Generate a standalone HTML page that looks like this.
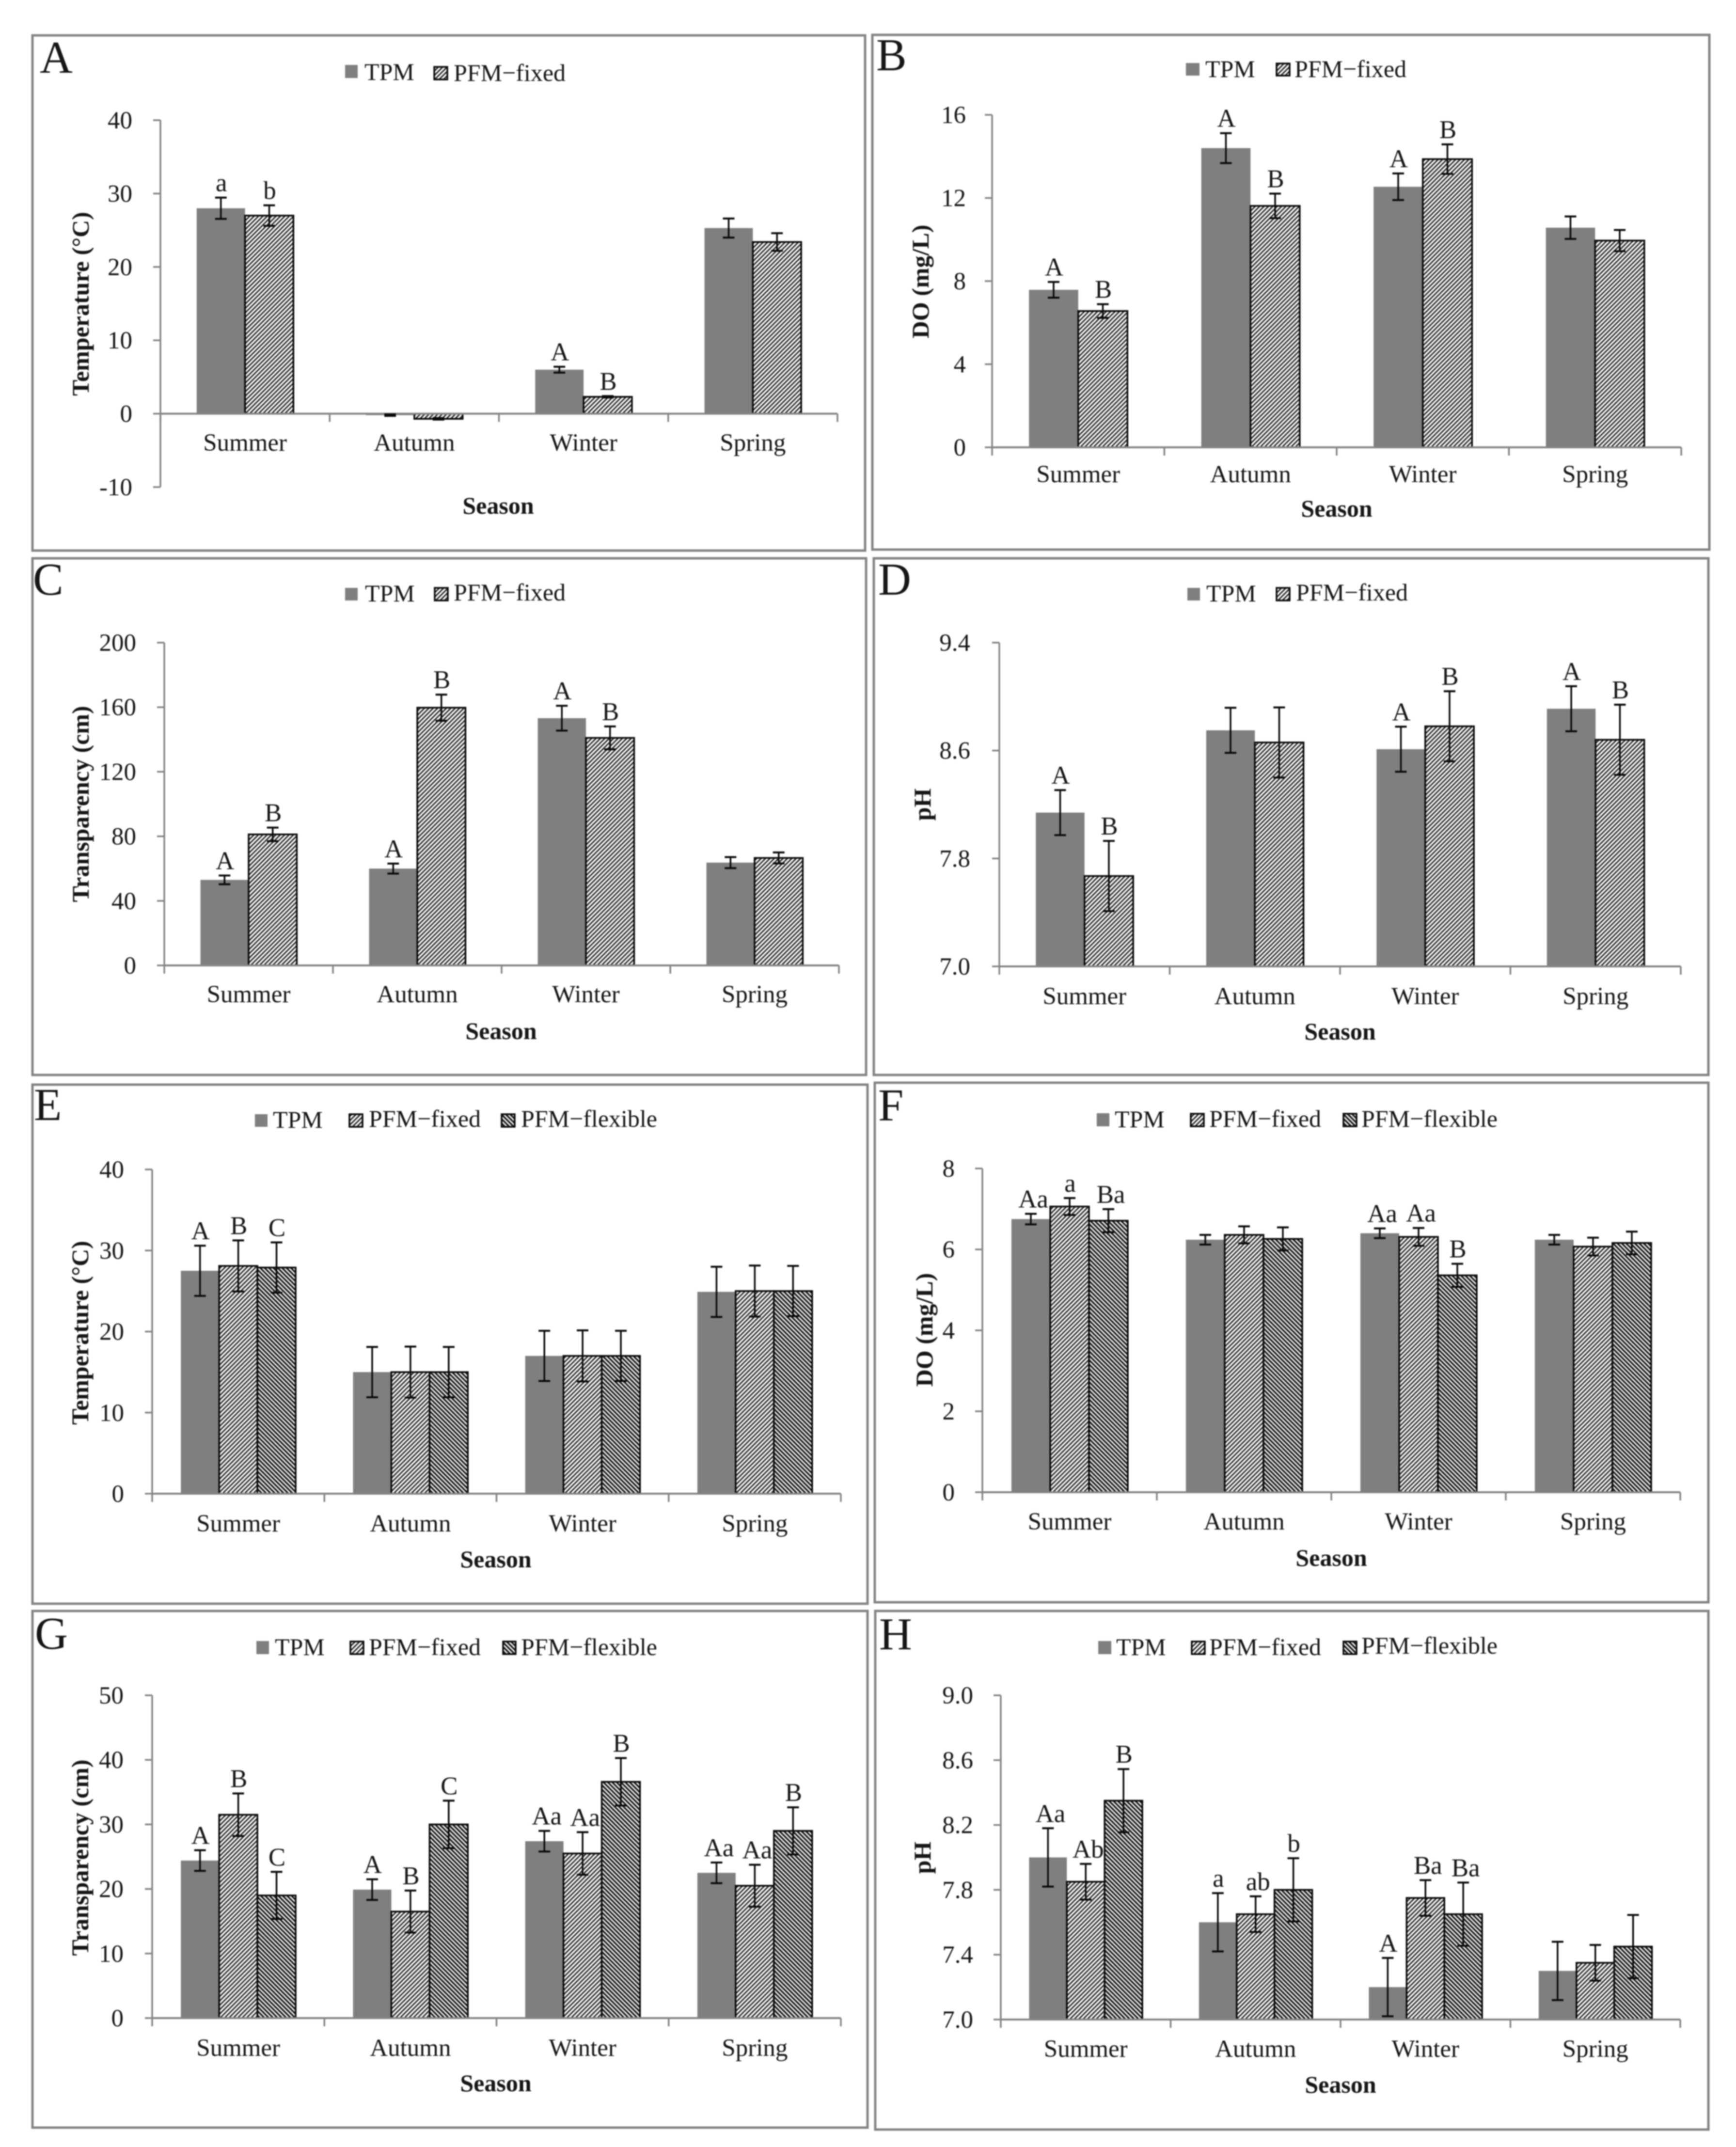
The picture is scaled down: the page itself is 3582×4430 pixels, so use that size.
<!DOCTYPE html>
<html lang="en">
<head>
<meta charset="utf-8">
<title>Seasonal water quality bar charts</title>
<style>
html,body{margin:0;padding:0;background:#fff;width:3582px;height:4430px;overflow:hidden}
svg{display:block;filter:blur(1.2px)}
text{font-family:"Liberation Serif",serif;fill:#161616}
.letter{font-size:94px}
.leg{font-size:50px}
.tick{font-size:51px;text-anchor:end}
.cat{font-size:51px;text-anchor:middle}
.sig{font-size:53px;text-anchor:middle}
.title{font-size:50px;font-weight:bold;text-anchor:middle}
.box{fill:#fff;stroke:#858585;stroke-width:5}
.tpm{fill:#7f7f7f}
.fixed{fill:url(#hatch-fixed);stroke:#0a0a0a;stroke-width:3.5}
.flex{fill:url(#hatch-flex);stroke:#0a0a0a;stroke-width:3.5}
</style>
</head>
<body>
<svg id="figure" xmlns="http://www.w3.org/2000/svg" width="3582" height="4430" viewBox="0 0 3582 4430">
<defs>
<pattern id="hatch-fixed" patternUnits="userSpaceOnUse" width="6.4" height="6.4" patternTransform="rotate(45)">
<rect width="6.4" height="6.4" fill="#fafafa"/><rect x="0" width="2.7" height="6.4" fill="#1c1c1c"/>
</pattern>
<pattern id="hatch-flex" patternUnits="userSpaceOnUse" width="6.4" height="6.4" patternTransform="rotate(-45)">
<rect width="6.4" height="6.4" fill="#f4f4f4"/><rect x="0" width="3.4" height="6.4" fill="#141414"/>
</pattern>
</defs>
<rect width="3582" height="4430" fill="#fff"/>

<g id="panel-a">
<rect class="box" x="67" y="73" width="1718" height="1063"/>
<text class="letter" x="82" y="150">A</text>
<rect class="tpm" x="712" y="134" width="26" height="27"/>
<text class="leg" x="752" y="165">TPM</text>
<rect class="fixed" x="896" y="138" width="27" height="26"/>
<text class="leg" x="936" y="167">PFM−fixed</text>
<text class="title" transform="translate(183 627) rotate(-90)">Temperature (°C)</text>
<text class="title" x="1028" y="1060">Season</text>
</g>

<g id="panel-b">
<rect class="box" x="1800" y="72" width="1727" height="1062"/>
<text class="letter" x="1808" y="145">B</text>
<rect class="tpm" x="2447" y="130" width="28" height="26"/>
<text class="leg" x="2487" y="159">TPM</text>
<rect class="fixed" x="2634" y="131" width="27" height="25"/>
<text class="leg" x="2671" y="159">PFM−fixed</text>
<text class="title" transform="translate(1916 581) rotate(-90)">DO (mg/L)</text>
<text class="title" x="2758" y="1066">Season</text>
</g>

<g id="panel-c">
<rect class="box" x="67" y="1152" width="1720" height="1066"/>
<text class="letter" x="68" y="1227">C</text>
<rect class="tpm" x="712" y="1213" width="26" height="26"/>
<text class="leg" x="753" y="1241">TPM</text>
<rect class="fixed" x="897" y="1213" width="27" height="26"/>
<text class="leg" x="936" y="1239">PFM−fixed</text>
<text class="title" transform="translate(183 1659) rotate(-90)">Transparency (cm)</text>
<text class="title" x="1034" y="2144">Season</text>
</g>

<g id="panel-d">
<rect class="box" x="1803" y="1152" width="1722" height="1066"/>
<text class="letter" x="1812" y="1227">D</text>
<rect class="tpm" x="2450" y="1213" width="26" height="26"/>
<text class="leg" x="2489" y="1241">TPM</text>
<rect class="fixed" x="2634" y="1213" width="27" height="26"/>
<text class="leg" x="2674" y="1239">PFM−fixed</text>
<text class="title" transform="translate(1920 1660) rotate(-90)">pH</text>
<text class="title" x="2765" y="2145">Season</text>
</g>

<g id="panel-e">
<rect class="box" x="67" y="2238" width="1723" height="1071"/>
<text class="letter" x="70" y="2311">E</text>
<rect class="tpm" x="526" y="2299" width="26" height="26"/>
<text class="leg" x="563" y="2327">TPM</text>
<rect class="fixed" x="721" y="2299" width="27" height="26"/>
<text class="leg" x="761" y="2325">PFM−fixed</text>
<rect class="flex" x="1035" y="2299" width="27" height="26"/>
<text class="leg" x="1075" y="2325">PFM−flexible</text>
<text class="title" transform="translate(182 2750) rotate(-90)">Temperature (°C)</text>
<text class="title" x="1023" y="3234">Season</text>
</g>

<g id="panel-f">
<rect class="box" x="1805" y="2234" width="1720" height="1072"/>
<text class="letter" x="1812" y="2312">F</text>
<rect class="tpm" x="2263" y="2297" width="26" height="27"/>
<text class="leg" x="2300" y="2326">TPM</text>
<rect class="fixed" x="2457" y="2298" width="27" height="26"/>
<text class="leg" x="2495" y="2325">PFM−fixed</text>
<rect class="flex" x="2772" y="2298" width="27" height="26"/>
<text class="leg" x="2809" y="2325">PFM−flexible</text>
<text class="title" transform="translate(1924 2744) rotate(-90)">DO (mg/L)</text>
<text class="title" x="2747" y="3231">Season</text>
</g>

<g id="panel-g">
<rect class="box" x="67" y="3324" width="1723" height="1066"/>
<text class="letter" x="72" y="3402">G</text>
<rect class="tpm" x="529" y="3386" width="26" height="27"/>
<text class="leg" x="567" y="3415">TPM</text>
<rect class="fixed" x="723" y="3387" width="27" height="26"/>
<text class="leg" x="761" y="3415">PFM−fixed</text>
<rect class="flex" x="1038" y="3387" width="26" height="26"/>
<text class="leg" x="1075" y="3415">PFM−flexible</text>
<text class="title" transform="translate(182 3833) rotate(-90)">Transparency (cm)</text>
<text class="title" x="1023" y="4315">Season</text>
</g>

<g id="panel-h">
<rect class="box" x="1806" y="3324" width="1719" height="1070"/>
<text class="letter" x="1814" y="3403">H</text>
<rect class="tpm" x="2266" y="3386" width="27" height="27"/>
<text class="leg" x="2303" y="3415">TPM</text>
<rect class="fixed" x="2459" y="3387" width="27" height="26"/>
<text class="leg" x="2495" y="3415">PFM−fixed</text>
<rect class="flex" x="2772" y="3387" width="27" height="26"/>
<text class="leg" x="2809" y="3412">PFM−flexible</text>
<text class="title" transform="translate(1920 3833) rotate(-90)">pH</text>
<text class="title" x="2766" y="4318">Season</text>
</g>
</svg>

<script>
const categories = ['Summer', 'Autumn', 'Winter', 'Spring'];

const aTicks = ['-10', '0', '10', '20', '30', '40'];
const aTpm = [28, -0.2, 6, 25.3];
const aTpmErr = [1.45, 0.1, 0.4, 1.3];
const aTpmSig = ['a', '', 'A', ''];
const aFixed = [27, -0.7, 2.3, 23.4];
const aFixedErr = [1.4, 0.1, 0.1, 1.2];
const aFixedSig = ['b', '', 'B', ''];

const bTicks = ['0', '4', '8', '12', '16'];
const bTpm = [7.58, 14.4, 12.54, 10.57];
const bTpmErr = [0.38, 0.72, 0.64, 0.54];
const bTpmSig = ['A', 'A', 'A', ''];
const bFixed = [6.56, 11.62, 13.87, 9.95];
const bFixedErr = [0.33, 0.59, 0.71, 0.51];
const bFixedSig = ['B', 'B', 'B', ''];

const cTicks = ['0', '40', '80', '120', '160', '200'];
const cTpm = [53, 60, 153.2, 63.7];
const cTpmErr = [2.7, 3.1, 7.7, 3.4];
const cTpmSig = ['A', 'A', 'A', ''];
const cFixed = [81.2, 159.7, 141, 66.6];
const cFixedErr = [4.2, 8.1, 7.1, 3.4];
const cFixedSig = ['B', 'B', 'B', ''];

const dTicks = ['7.0', '7.8', '8.6', '9.4'];
const dTpm = [8.14, 8.75, 8.61, 8.91];
const dTpmErr = [0.167, 0.167, 0.167, 0.167];
const dTpmSig = ['A', '', 'A', 'A'];
const dFixed = [7.67, 8.66, 8.78, 8.68];
const dFixedErr = [0.26, 0.26, 0.26, 0.26];
const dFixedSig = ['B', '', 'B', 'B'];

const eTicks = ['0', '10', '20', '30', '40'];
const eTpm = [27.5, 15, 17, 24.9];
const eTpmErr = [3.1, 3.1, 3.1, 3.1];
const eTpmSig = ['A', '', '', ''];
const eFixed = [28.1, 15, 17, 25];
const eFixedErr = [3.15, 3.15, 3.15, 3.15];
const eFixedSig = ['B', '', '', ''];
const eFlex = [27.9, 15, 17, 25];
const eFlexErr = [3.1, 3.1, 3.1, 3.1];
const eFlexSig = ['C', '', '', ''];

const fTicks = ['0', '2', '4', '6', '8'];
const fTpm = [6.75, 6.24, 6.4, 6.24];
const fTpmErr = [0.13, 0.12, 0.12, 0.12];
const fTpmSig = ['Aa', '', 'Aa', ''];
const fFixed = [7.06, 6.36, 6.31, 6.07];
const fFixedErr = [0.21, 0.21, 0.22, 0.22];
const fFixedSig = ['a', '', 'Aa', ''];
const fFlex = [6.71, 6.26, 5.36, 6.16];
const fFlexErr = [0.285, 0.285, 0.285, 0.28];
const fFlexSig = ['Ba', '', 'B', ''];

const gTicks = ['0', '10', '20', '30', '40', '50'];
const gTpm = [24.4, 19.9, 27.4, 22.5];
const gTpmErr = [1.6, 1.6, 1.6, 1.6];
const gTpmSig = ['A', 'A', 'Aa', 'Aa'];
const gFixed = [31.5, 16.5, 25.5, 20.5];
const gFixedErr = [3.3, 3.25, 3.3, 3.25];
const gFixedSig = ['B', 'B', 'Aa', 'Aa'];
const gFlex = [19, 30, 36.6, 29];
const gFlexErr = [3.65, 3.68, 3.68, 3.65];
const gFlexSig = ['C', 'C', 'B', 'B'];

const hTicks = ['7.0', '7.4', '7.8', '8.2', '8.6', '9.0'];
const hTpm = [8, 7.6, 7.2, 7.3];
const hTpmErr = [0.18, 0.18, 0.18, 0.18];
const hTpmSig = ['Aa', 'a', 'A', ''];
const hFixed = [7.85, 7.65, 7.75, 7.35];
const hFixedErr = [0.11, 0.11, 0.11, 0.11];
const hFixedSig = ['Ab', 'ab', 'Ba', ''];
const hFlex = [8.35, 7.8, 7.65, 7.45];
const hFlexErr = [0.195, 0.195, 0.195, 0.195];
const hFlexSig = ['B', 'b', 'Ba', ''];

const SVG_NS = 'http://www.w3.org/2000/svg';
const AXIS_COLOR = '#858585';

function shape(parent, tag, attrs) {
  const node = document.createElementNS(SVG_NS, tag);
  for (const key in attrs) node.setAttribute(key, attrs[key]);
  parent.appendChild(node);
  return node;
}

function drawPanel(panelId, frame, tickLabels, seriesList) {
  const root = document.getElementById(panelId);
  const tickValues = tickLabels.map(Number);
  const yMin = Math.min.apply(null, tickValues);
  const yMax = Math.max.apply(null, tickValues);
  const yScale = v => frame.yBottom - (v - yMin) / (yMax - yMin) * (frame.yBottom - frame.yTop);
  const base = yMin < 0 ? 0 : yMin;
  const catWidth = (frame.x1 - frame.x0) / categories.length;
  const barWidth = catWidth / (seriesList.length + 1.5);
  const catCenter = i => frame.x0 + catWidth * (i + 0.5);
  const barLeft = (i, s) => catCenter(i) - barWidth * seriesList.length / 2 + barWidth * s;

  seriesList.forEach((series, s) => {
    series.values.forEach((value, i) => {
      const y0 = yScale(base);
      const yv = yScale(value);
      const bar = shape(root, 'rect', {
        class: series.kind,
        x: barLeft(i, s),
        y: Math.min(y0, yv),
        width: barWidth,
        height: Math.abs(y0 - yv)
      });
      
      
    });
  });

  const yAxis = shape(root, 'line', { x1: frame.x0, x2: frame.x0, y1: frame.yTop, y2: frame.yBottom, stroke: AXIS_COLOR, 'stroke-width': 3.5 });
  
  

  const xAxis = shape(root, 'line', { x1: frame.x0, x2: frame.x1, y1: yScale(base), y2: yScale(base), stroke: AXIS_COLOR, 'stroke-width': 4 });
  
  

  tickLabels.forEach((label, k) => {
    const y = yScale(tickValues[k]);
    const mark = shape(root, 'line', { x1: frame.x0 - 15, x2: frame.x0, y1: y, y2: y, stroke: AXIS_COLOR, 'stroke-width': 3.5 });
    
    
    const text = shape(root, 'text', { class: 'tick', x: frame.tickRight, y: y + 17 });
    text.textContent = label;
    
    
  });

  for (let i = 0; i <= categories.length; i++) {
    const x = frame.x0 + catWidth * i;
    const mark = shape(root, 'line', { x1: x, x2: x, y1: yScale(base), y2: yScale(base) + 17, stroke: AXIS_COLOR, 'stroke-width': 3.5 });
    
    
  }

  categories.forEach((name, i) => {
    const text = shape(root, 'text', { class: 'cat', x: catCenter(i), y: frame.catBase });
    text.textContent = name;
    
    
  });

  seriesList.forEach((series, s) => {
    series.values.forEach((value, i) => {
      const cx = barLeft(i, s) + barWidth / 2;
      const top = yScale(value + series.errors[i]);
      const bottom = yScale(value - series.errors[i]);
      const stem = shape(root, 'line', { x1: cx, x2: cx, y1: top, y2: bottom, stroke: '#0a0a0a', 'stroke-width': 3.5 });
      
      
      [top, bottom].forEach(y => {
        const cap = shape(root, 'line', { x1: cx - 12, x2: cx + 12, y1: y, y2: y, stroke: '#0a0a0a', 'stroke-width': 4 });
        
        
      });
      const sig = series.sig[i];
      if (sig) {
        const dx = sig.length > 1 ? 5 : 1;
        const text = shape(root, 'text', { class: 'sig', x: cx + dx, y: top - 13 });
        text.textContent = sig;
        
        
      }
    });
  });
}

drawPanel('panel-a', { x0: 331, x1: 1728, yTop: 248, yBottom: 1005, tickRight: 273, catBase: 930 }, aTicks, [
  { kind: 'tpm', values: aTpm, errors: aTpmErr, sig: aTpmSig },
  { kind: 'fixed', values: aFixed, errors: aFixedErr, sig: aFixedSig }
]);
drawPanel('panel-b', { x0: 2047, x1: 3469, yTop: 237, yBottom: 923, tickRight: 1993, catBase: 995 }, bTicks, [
  { kind: 'tpm', values: bTpm, errors: bTpmErr, sig: bTpmSig },
  { kind: 'fixed', values: bFixed, errors: bFixedErr, sig: bFixedSig }
]);
drawPanel('panel-c', { x0: 339, x1: 1731, yTop: 1326, yBottom: 1992, tickRight: 281, catBase: 2068 }, cTicks, [
  { kind: 'tpm', values: cTpm, errors: cTpmErr, sig: cTpmSig },
  { kind: 'fixed', values: cFixed, errors: cFixedErr, sig: cFixedSig }
]);
drawPanel('panel-d', { x0: 2062, x1: 3468, yTop: 1326, yBottom: 1994, tickRight: 2002, catBase: 2072 }, dTicks, [
  { kind: 'tpm', values: dTpm, errors: dTpmErr, sig: dTpmSig },
  { kind: 'fixed', values: dFixed, errors: dFixedErr, sig: dFixedSig }
]);
drawPanel('panel-e', { x0: 314, x1: 1735, yTop: 2413, yBottom: 3082, tickRight: 256, catBase: 3160 }, eTicks, [
  { kind: 'tpm', values: eTpm, errors: eTpmErr, sig: eTpmSig },
  { kind: 'fixed', values: eFixed, errors: eFixedErr, sig: eFixedSig },
  { kind: 'flex', values: eFlex, errors: eFlexErr, sig: eFlexSig }
]);
drawPanel('panel-f', { x0: 2027, x1: 3467, yTop: 2411, yBottom: 3079, tickRight: 1970, catBase: 3156 }, fTicks, [
  { kind: 'tpm', values: fTpm, errors: fTpmErr, sig: fTpmSig },
  { kind: 'fixed', values: fFixed, errors: fFixedErr, sig: fFixedSig },
  { kind: 'flex', values: fFlex, errors: fFlexErr, sig: fFlexSig }
]);
drawPanel('panel-g', { x0: 314, x1: 1735, yTop: 3498, yBottom: 4164, tickRight: 255, catBase: 4242 }, gTicks, [
  { kind: 'tpm', values: gTpm, errors: gTpmErr, sig: gTpmSig },
  { kind: 'fixed', values: gFixed, errors: gFixedErr, sig: gFixedSig },
  { kind: 'flex', values: gFlex, errors: gFlexErr, sig: gFlexSig }
]);
drawPanel('panel-h', { x0: 2065, x1: 3467, yTop: 3498, yBottom: 4167, tickRight: 2008, catBase: 4244 }, hTicks, [
  { kind: 'tpm', values: hTpm, errors: hTpmErr, sig: hTpmSig },
  { kind: 'fixed', values: hFixed, errors: hFixedErr, sig: hFixedSig },
  { kind: 'flex', values: hFlex, errors: hFlexErr, sig: hFlexSig }
]);
</script>
</body>
</html>
